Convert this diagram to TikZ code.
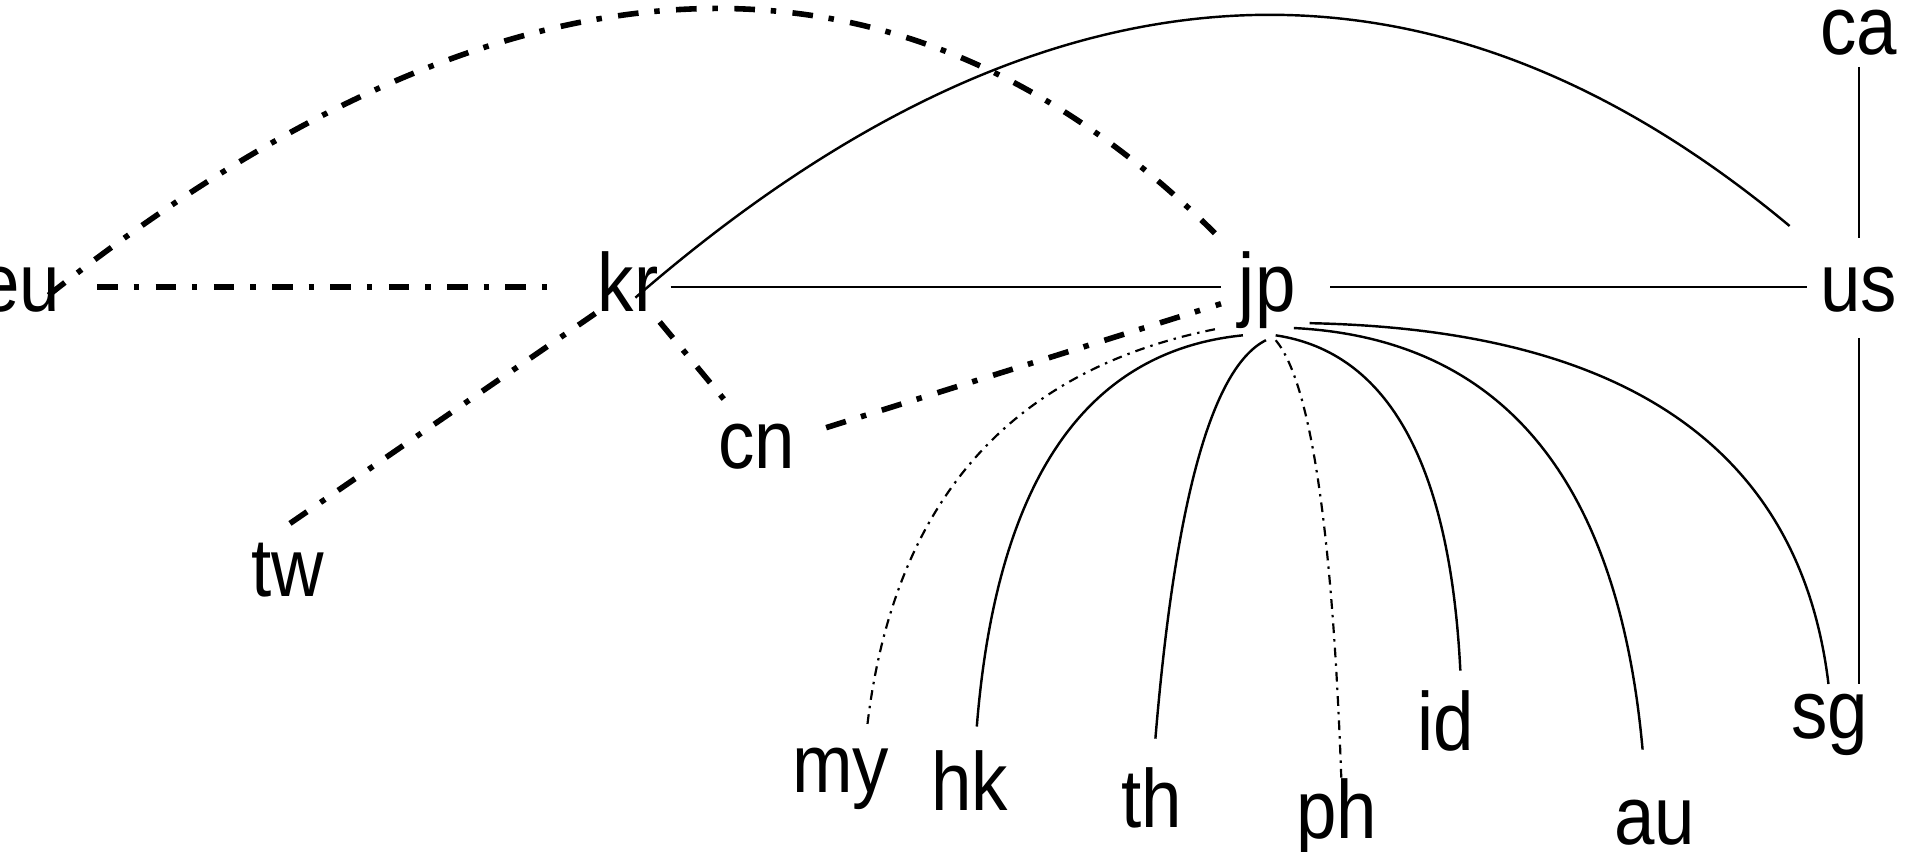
\documentclass[tikz,border=0pt]{standalone}
\usepackage{fontspec}
\newfontfamily\labfont{Liberation Sans}[FakeStretch=0.88]
\usetikzlibrary{calc}
\begin{document}
\begin{tikzpicture}[x=1pt,y=-1pt,
  lab/.style={font=\labfont\fontsize{68}{80}\selectfont, inner sep=0pt, anchor=base},
  solidedge/.style={line width=2pt},
  thickdd/.style={line width=4.6pt, dash pattern=on 17pt off 13pt on 4.5pt off 13.5pt},
  thindd/.style={line width=1.8pt, dash pattern=on 8pt off 5pt on 2pt off 5pt}]
\fill[white] (0,0) rectangle (1568,701);
\useasboundingbox (0,0) rectangle (1568,701);
% labels
\node[lab] (eu) at (16,256) {eu};
\node[lab] (kr) at (517,256) {kr};
\node[lab] (jp) at (1043,256) {jp};
\node[lab] (us) at (1530,256) {us};
\node[lab] (ca) at (1530,45) {ca};
\node[lab] (cn) at (623,386) {cn};
\node[lab] (tw) at (237,491) {tw};
\node[lab] (my) at (692,652) {my};
\node[lab] (hk) at (798,667) {hk};
\node[lab] (th) at (948,681) {th};
\node[lab] (ph) at (1100,690) {ph};
\node[lab] (id) at (1190,618) {id};
\node[lab] (au) at (1362,695) {au};
\node[lab] (sg) at (1506,608) {sg};
% straight edges
\draw[thickdd] ($(eu.base)+(64,-20)$) -- ($(kr.base)+(-62,-20)$);
\draw[solidedge] ($(kr.base)+(35,-20)$) -- ($(jp.base)+(-38,-20)$);
\draw[solidedge] ($(jp.base)+(52,-20)$) -- ($(us.base)+(-43,-20)$);
\draw[thickdd] ($(kr.base)+(-27,2)$) -- ($(tw.base)+(0,-59)$);
\draw[thickdd] ($(kr.base)+(26,9)$) -- ($(cn.base)+(-26,-56)$);
\draw[thickdd] ($(cn.base)+(57,-34)$) -- ($(jp.base)+(-38,-6)$);
\draw[solidedge] ($(ca.base)+(0,10)$) -- ($(us.base)+(0,-60)$);
\draw[solidedge] ($(us.base)+(0,22)$) -- ($(sg.base)+(24,-45)$);
% arcs
\draw[thickdd] ($(eu.base)+(24,-13)$) .. controls (415.3,-53.7) and (735.3,-70.7) .. ($(jp.base)+(-43,-64)$);
\draw[solidedge] ($(kr.base)+(6,-11)$) .. controls (856.3,-44.3) and (1173,-64) .. ($(us.base)+(-57,-70)$);
% jp fan
\draw[thindd] ($(jp.base)+(-43,15)$) .. controls (831.3,304.7) and (736,413.1) .. ($(my.base)+(22,-56)$);
\draw[solidedge] ($(jp.base)+(-20,20)$) .. controls (893.1,289) and (820.1,396.3) .. ($(hk.base)+(6,-69)$);
\draw[solidedge] ($(jp.base)+(-1,24)$) .. controls (997.6,302.2) and (967.3,411.5) .. ($(th.base)+(3,-73)$);
\draw[thindd] ($(jp.base)+(7,24)$) .. controls (1078.6,314.3) and (1096.6,434.3) .. ($(ph.base)+(4,-50)$);
\draw[solidedge] ($(jp.base)+(7,20)$) .. controls (1142.8,289.9) and (1193.5,381.9) .. ($(id.base)+(12,-66)$);
\draw[solidedge] ($(jp.base)+(22,14)$) .. controls (1236.3,278.6) and (1332,394.3) .. ($(au.base)+(-10,-78)$);
\draw[solidedge] ($(jp.base)+(35,10)$) .. controls (1339.5,271.2) and (1481.9,370.2) .. ($(sg.base)+(-1,-45)$);
\end{tikzpicture}
\end{document}
